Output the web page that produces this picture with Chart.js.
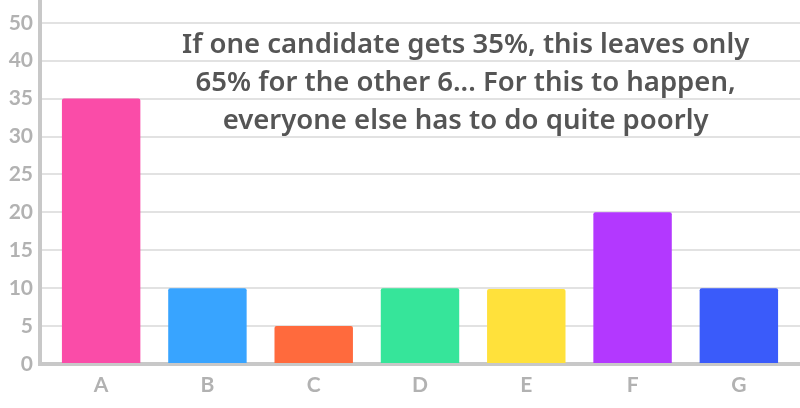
<!DOCTYPE html>
<html>
<head>
<meta charset="utf-8">
<script src="https://cdn.jsdelivr.net/npm/chart.js@4"></script>
<style>
  html, body { margin: 0; padding: 0; background: #fff; }
  #wrap { width: 800px; height: 408px; }
</style>
</head>
<body>
<div id="wrap"><canvas id="chart"></canvas></div>
<script>
const candidates = ['A', 'B', 'C', 'D', 'E', 'F', 'G'];
const voteShare = [35, 10, 5, 10, 9.9, 20, 10];
const barColors = ['#fa4ca8', '#38a4ff', '#ff6a3d', '#36e59a', '#ffe13b', '#b338ff', '#3a5bfa'];
const tickValues = [0, 5, 10, 15, 20, 25, 30, 35, 40, 45];
const tickLabels = ['0', '5', '10', '15', '20', '25', '30', '35', '40', '50'];
const noteLines = [
    'If one candidate gets 35%, this leaves only',
    '65% for the other 6... For this to happen,',
    'everyone else has to do quite poorly'
];

// Draws the note over the plot area
const notePlugin = {
    id: 'note',
    afterLayout(chart) {
        // keep the bars a little inside the axis lines
        const x = chart.scales.x;
        const inset = 8;
        x._startPixel = x.left + inset;
        x._endPixel = x.right - inset;
        x._length = x._endPixel - x._startPixel;
    },
    afterDatasetsDraw(chart) {
        const { ctx, chartArea } = chart;
        ctx.save();
        ctx.font = '600 27.5px "Noto Sans"';
        ctx.fillStyle = '#555555';
        ctx.textAlign = 'center';
        ctx.textBaseline = 'middle';
        const cx = chartArea.left + (chartArea.right - chartArea.left) * 0.56;
        noteLines.forEach((line, i) => {
            ctx.fillText(line, cx, chartArea.top + 45 + i * 38);
        });
        ctx.restore();
    }
};

const tickFont = { family: 'Lato', size: 21, weight: 'bold' };

new Chart(document.getElementById('chart'), {
    type: 'bar',
    data: {
        labels: candidates,
        datasets: [{
            data: voteShare,
            backgroundColor: barColors,
            borderRadius: 2,
            borderSkipped: 'bottom',
            barPercentage: 0.9,
            categoryPercentage: 0.82
        }]
    },
    options: {
        responsive: true,
        maintainAspectRatio: false,
        animation: false,
        layout: { padding: 0 },
        plugins: {
            legend: { display: false },
            tooltip: { enabled: false }
        },
        scales: {
            x: {
                grid: { display: false },
                border: { color: '#c8c8c8', width: 4 },
                ticks: { color: '#b2b2b2', font: tickFont, padding: 1 },
                afterFit(scale) {
                    scale.height = 44;
                    scale.paddingLeft = 0;
                    scale.paddingRight = 0;
                }
            },
            y: {
                min: 0,
                max: 48,
                grid: { color: '#e2e2e2', lineWidth: 2, drawTicks: false },
                border: { color: '#c8c8c8', width: 4 },
                ticks: {
                    color: '#b2b2b2',
                    font: tickFont,
                    padding: 7,
                    callback: (value) => {
                        const idx = tickValues.indexOf(value);
                        return idx >= 0 ? tickLabels[idx] : '';
                    }
                },
                afterBuildTicks(scale) {
                    scale.ticks = tickValues.map(v => ({ value: v }));
                },
                afterFit(scale) {
                    scale.width = 40;
                    scale.paddingTop = 0;
                    scale.paddingBottom = 0;
                }
            }
        }
    },
    plugins: [notePlugin]
});
</script>
</body>
</html>
